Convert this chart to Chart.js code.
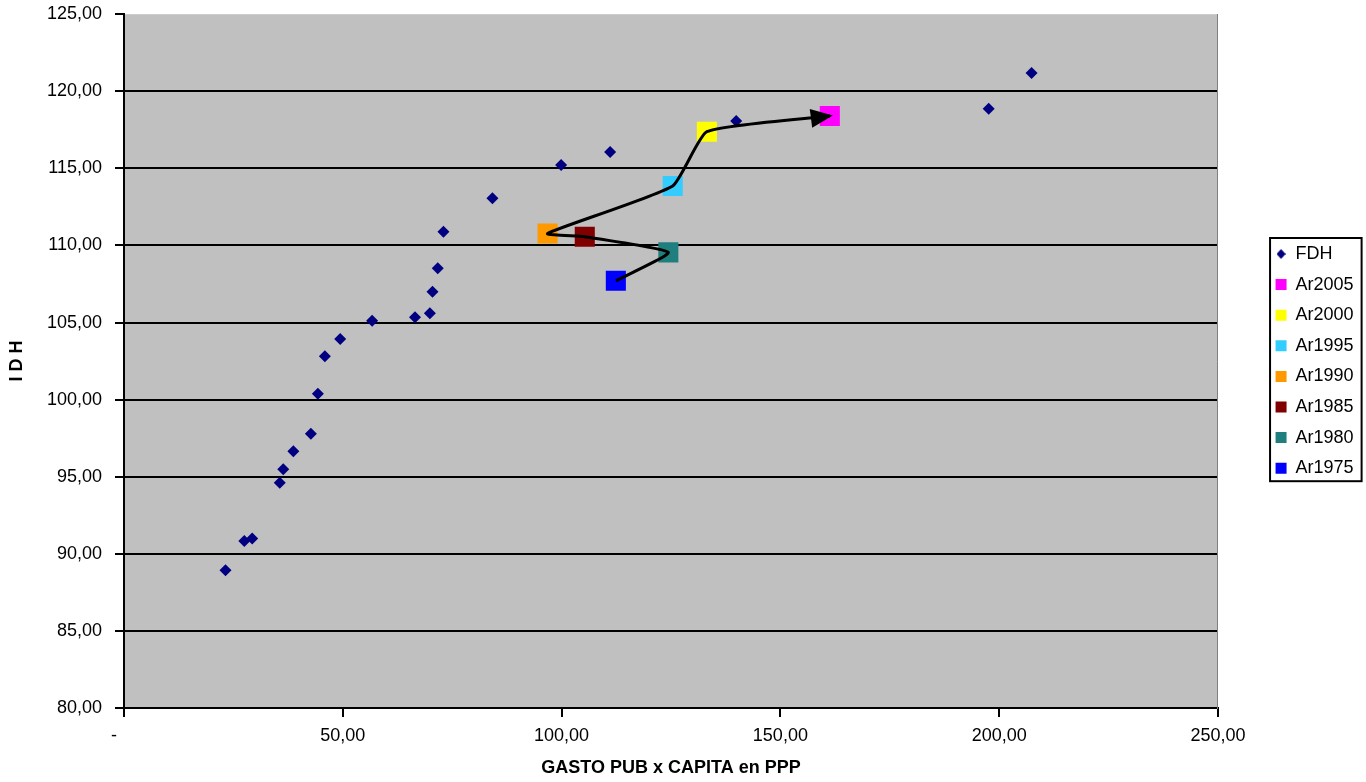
<!DOCTYPE html>
<html>
<head>
<meta charset="utf-8">
<script src="https://cdn.jsdelivr.net/npm/chart.js@4/dist/chart.umd.min.js"></script>
<style>
html,body{margin:0;padding:0;background:#fff;}
canvas{display:block;}
</style>
</head>
<body>
<canvas id="c" width="1366" height="782"></canvas>
<script>
// ---- data ----
const fdhLabel = 'FDH';
const fdhX = [23.2, 27.5, 29.3, 35.6, 36.4, 38.7, 42.7, 44.3, 45.9, 49.4, 56.7, 66.5, 69.9, 70.5, 71.7, 73.0, 84.2, 99.9, 111.1, 139.9, 197.6, 207.4];
const fdhY = [88.94, 90.83, 90.99, 94.61, 95.48, 96.66, 97.79, 100.38, 102.81, 103.94, 105.12, 105.34, 105.60, 107.00, 108.53, 110.89, 113.07, 115.22, 116.07, 118.07, 118.87, 121.18];

const arLabels = ['Ar2005', 'Ar2000', 'Ar1995', 'Ar1990', 'Ar1985', 'Ar1980', 'Ar1975'];
const arX = [161.3, 133.2, 125.4, 96.8, 105.3, 124.4, 112.4];
const arY = [118.40, 117.38, 113.86, 110.78, 110.56, 109.55, 107.71];
const arColors = ['#FF00FF', '#FFFF00', '#33CCFF', '#FF9900', '#800000', '#1F7F7F', '#0000FF'];
const fdhColor = '#000080';

const xTickLabels = ['-    ', '50,00', '100,00', '150,00', '200,00', '250,00'];
const yTickLabels = ['80,00', '85,00', '90,00', '95,00', '100,00', '105,00', '110,00', '115,00', '120,00', '125,00'];
const xTitle = 'GASTO PUB x CAPITA en PPP';
const yTitle = 'I D H';

// ---- chart ----
const FONT = "'Liberation Sans', Arial, Helvetica, sans-serif";
Chart.defaults.font.family = FONT;
Chart.defaults.font.size = 18;
Chart.defaults.color = '#000';

function diamondIcon(color, w, h) {
  const c = document.createElement('canvas');
  c.width = w; c.height = h;
  const g = c.getContext('2d');
  g.fillStyle = color;
  g.beginPath();
  g.moveTo(w / 2, 0); g.lineTo(w, h / 2); g.lineTo(w / 2, h); g.lineTo(0, h / 2);
  g.closePath(); g.fill();
  return c;
}

const datasets = [];
datasets.push({
  label: fdhLabel,
  data: fdhX.map((x, i) => ({x, y: fdhY[i]})),
  pointStyle: 'rectRot',
  pointRadius: 6,
  pointHoverRadius: 6,
  backgroundColor: fdhColor,
  borderColor: fdhColor,
  borderWidth: 0,
  yAxisID: 'y'
});
arLabels.forEach((lab, i) => {
  datasets.push({
    label: lab,
    data: [{x: arX[i], y: arY[i]}],
    pointStyle: 'rect',
    pointRadius: 14.2,
    pointHoverRadius: 14.2,
    backgroundColor: arColors[i],
    borderColor: arColors[i],
    borderWidth: 0,
    yAxisID: 'y'
  });
});
// path through the Ar points in chronological order
const pathIdx = datasets.length;
datasets.push({
  label: 'path',
  isPath: true,
  data: arX.map((x, i) => ({x, y: arY[i]})).reverse(),
  showLine: true,
  borderColor: '#000',
  backgroundColor: '#000',
  borderWidth: 3,
  pointRadius: 0,
  pointHoverRadius: 0,
  tension: 0.15,
  order: -1,
  yAxisID: 'y'
});

const plotBg = {
  id: 'plotBg',
  beforeDraw(chart) {
    const {ctx, chartArea: a} = chart;
    ctx.save();
    ctx.fillStyle = '#fff';
    ctx.fillRect(0, 0, chart.width, chart.height);
    ctx.fillStyle = '#C0C0C0';
    ctx.fillRect(a.left, a.top, a.right - a.left, a.bottom - a.top);
    ctx.restore();
  }
};

const arrowHead = {
  id: 'arrowHead',
  afterDatasetsDraw(chart) {
    const meta = chart.getDatasetMeta(pathIdx);
    const pts = meta.data;
    const n = pts.length;
    if (n < 2) return;
    const end = pts[n - 1], prev = pts[n - 2];
    let fx = prev.x, fy = prev.y;
    if (typeof end.cp1x === 'number' && Math.hypot(end.x - end.cp1x, end.y - end.cp1y) > 2) {
      fx = end.cp1x; fy = end.cp1y;
    }
    const a = Math.atan2(end.y - fy, end.x - fx);
    const c = Math.cos(a), s = Math.sin(a);
    const tx = end.x + 3 * c, ty = end.y + 3 * s;
    const L = 22, W = 9.5;
    const ctx = chart.ctx;
    ctx.save();
    ctx.fillStyle = '#000';
    ctx.beginPath();
    ctx.moveTo(tx, ty);
    ctx.lineTo(tx - L * c + W * s, ty - L * s - W * c);
    ctx.lineTo(tx - L * c - W * s, ty - L * s + W * c);
    ctx.closePath();
    ctx.fill();
    ctx.restore();
  }
};

const legendBox = {
  id: 'legendBox',
  afterDraw(chart) {
    const lg = chart.legend;
    if (!lg || !lg.legendHitBoxes || !lg.legendHitBoxes.length) return;
    const hb = lg.legendHitBoxes;
    const first = hb[0], last = hb[hb.length - 1];
    const left = first.left - 5.5;
    const top = first.top - 7;
    const bottom = last.top + last.height + 4;
    const right = lg.right - 2;
    const ctx = chart.ctx;
    ctx.save();
    ctx.strokeStyle = '#000';
    ctx.lineWidth = 2;
    ctx.strokeRect(left, top, right - left, bottom - top);
    ctx.restore();
  }
};

new Chart(document.getElementById('c'), {
  type: 'scatter',
  data: {datasets},
  plugins: [plotBg, arrowHead, legendBox],
  options: {
    responsive: false,
    animation: false,
    events: [],
    layout: {padding: {left: 0, top: 13, right: 2.4, bottom: 0}},
    plugins: {
      tooltip: {enabled: false},
      legend: {
        position: 'right',
        fullSize: false,
        align: 'center',
        labels: {
          usePointStyle: true,
          boxWidth: 11,
          boxHeight: 11,
          padding: 12.6,
          color: '#000',
          font: {size: 18, family: FONT},
          generateLabels(chart) {
            const items = Chart.defaults.plugins.legend.labels.generateLabels(chart);
            return items.filter(it => !chart.data.datasets[it.datasetIndex].isPath).map(it => {
              if (it.datasetIndex === 0) it.pointStyle = diamondIcon(fdhColor, 9, 10);
              it.lineWidth = 0;
              return it;
            });
          }
        }
      }
    },
    scales: {
      x: {
        type: 'linear',
        position: 'bottom',
        min: 0,
        max: 250,
        ticks: {
          stepSize: 50,
          autoSkip: false,
          maxRotation: 0,
          padding: 8,
          color: '#000',
          font: {size: 18},
          callback: (v) => xTickLabels[Math.round(v / 50)]
        },
        grid: {drawOnChartArea: false, drawTicks: true, tickLength: 9, tickColor: '#000', lineWidth: 2},
        border: {display: true, color: '#000', width: 2},
        title: {display: true, text: xTitle, color: '#000', font: {size: 18, weight: 'bold'}, padding: {top: 0, bottom: 3}},
        afterFit(s) { s.height = 74; }
      },
      y: {
        type: 'linear',
        position: 'left',
        min: 80,
        max: 125,
        ticks: {
          stepSize: 5,
          padding: 13,
          color: '#000',
          font: {size: 18},
          callback: (v) => yTickLabels[Math.round((v - 80) / 5)]
        },
        grid: {
          color: (ctx) => (ctx.tick && ctx.tick.value === 125) ? 'rgba(0,0,0,0)' : '#000',
          tickColor: '#000',
          lineWidth: 2,
          tickLength: 9
        },
        border: {display: true, color: '#000', width: 2},
        title: {display: true, text: yTitle, color: '#000', font: {size: 18, weight: 'bold'}, padding: {top: 6, bottom: 0}},
        afterFit(s) { s.width = 124; s.paddingTop = 0; s.paddingBottom = 0; }
      },
      yR: {
        type: 'linear',
        position: 'right',
        min: 80,
        max: 125,
        display: true,
        ticks: {display: false},
        grid: {drawOnChartArea: false, drawTicks: false},
        border: {display: true, color: '#808080', width: 1},
        afterFit(s) { s.width = 45; s.paddingTop = 0; s.paddingBottom = 0; }
      }
    }
  }
});
</script>
</body>
</html>
